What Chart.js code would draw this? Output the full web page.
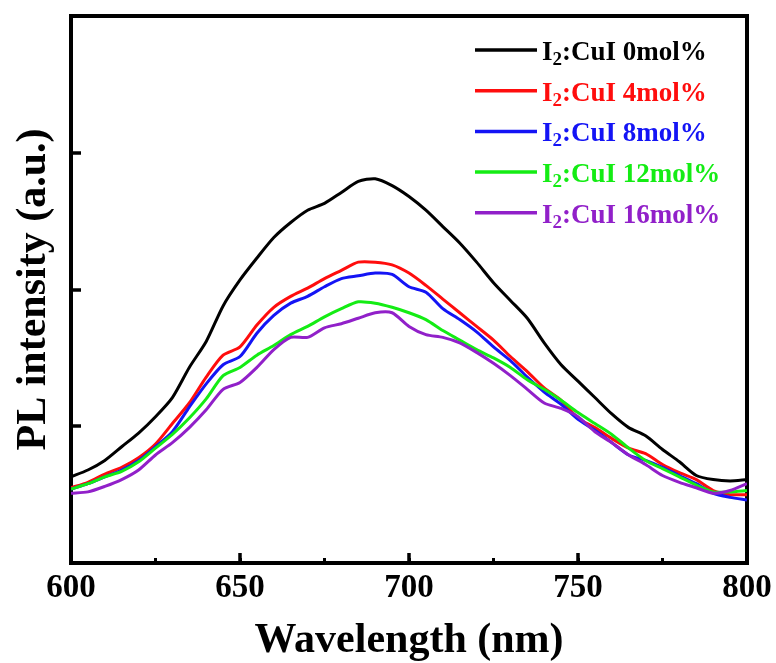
<!DOCTYPE html>
<html>
<head>
<meta charset="utf-8">
<script src="https://cdn.jsdelivr.net/npm/chart.js@4.4.1/dist/chart.umd.min.js"></script>
<style>
html, body { margin: 0; padding: 0; background: #fff; }
</style>
</head>
<body>
<canvas id="chart" width="776" height="663"></canvas>
<script>
const wavelength = [600, 605, 610, 615, 620, 625, 630, 635, 640, 645, 650, 655, 660, 665, 670, 675, 680, 685, 690, 695,
	700, 705, 710, 715, 720, 725, 730, 735, 740, 745, 750, 755, 760, 765, 770, 775, 780, 785, 790, 795, 800];

const pl0 = [0.63, 0.68, 0.75, 0.85, 0.95, 1.07, 1.21, 1.43, 1.62, 1.88, 2.07, 2.23, 2.38, 2.49, 2.58, 2.63, 2.71, 2.79, 2.81, 2.76,
	2.68, 2.58, 2.46, 2.34, 2.20, 2.05, 1.92, 1.79, 1.61, 1.45, 1.33, 1.21, 1.09, 0.99, 0.93, 0.83, 0.74, 0.64, 0.61, 0.60, 0.61];
const pl4 = [0.55, 0.59, 0.65, 0.70, 0.77, 0.87, 1.02, 1.17, 1.36, 1.52, 1.58, 1.74, 1.87, 1.95, 2.01, 2.08, 2.14, 2.20, 2.20, 2.18,
	2.12, 2.03, 1.93, 1.83, 1.73, 1.63, 1.51, 1.40, 1.28, 1.19, 1.06, 0.99, 0.91, 0.84, 0.80, 0.72, 0.66, 0.61, 0.53, 0.50, 0.50];
const pl8 = [0.54, 0.58, 0.63, 0.68, 0.75, 0.85, 0.96, 1.14, 1.31, 1.45, 1.51, 1.68, 1.81, 1.90, 1.95, 2.02, 2.08, 2.10, 2.12, 2.11,
	2.02, 1.98, 1.86, 1.78, 1.69, 1.58, 1.48, 1.36, 1.25, 1.16, 1.05, 0.97, 0.88, 0.79, 0.75, 0.70, 0.64, 0.58, 0.51, 0.48, 0.46];
const pl12 = [0.54, 0.58, 0.63, 0.67, 0.74, 0.84, 0.94, 1.06, 1.20, 1.37, 1.43, 1.52, 1.59, 1.67, 1.73, 1.80, 1.86, 1.91, 1.90, 1.87,
	1.83, 1.78, 1.70, 1.63, 1.56, 1.50, 1.43, 1.34, 1.27, 1.19, 1.10, 1.02, 0.94, 0.84, 0.75, 0.69, 0.63, 0.57, 0.52, 0.52, 0.53];
const pl16 = [0.51, 0.52, 0.56, 0.61, 0.68, 0.79, 0.88, 0.99, 1.12, 1.27, 1.32, 1.43, 1.56, 1.65, 1.65, 1.72, 1.75, 1.79, 1.83, 1.83,
	1.73, 1.67, 1.65, 1.61, 1.54, 1.46, 1.37, 1.27, 1.17, 1.13, 1.07, 0.96, 0.88, 0.79, 0.72, 0.64, 0.59, 0.55, 0.51, 0.53, 0.58];

const doping = ['0', '4', '8', '12', '16'];
const lineColors = ['#000000', '#ff0d0d', '#1414f5', '#14ec14', '#9120c9'];
const series = [pl0, pl4, pl8, pl12, pl16];

const serif = '"Liberation Serif", "Times New Roman", serif';

// legend sits inside the plot, top right, with a real subscript in I2
const insideLegend = {
	id: 'insideLegend',
	afterDatasetsDraw: chart => {
		const {ctx, chartArea} = chart;
		const x0 = chartArea.right - 272;
		ctx.save();
		chart.data.datasets.forEach((ds, i) => {
			const y = chartArea.top + 34 + i * 40.7;
			ctx.strokeStyle = ds.borderColor;
			ctx.lineWidth = 3.5;
			ctx.beginPath();
			ctx.moveTo(x0, y);
			ctx.lineTo(x0 + 62, y);
			ctx.stroke();

			const [head, tail] = ds.label.split('\u2082');
			const base = y + 10;
			let tx = x0 + 67;
			ctx.fillStyle = ds.borderColor;
			ctx.textBaseline = 'alphabetic';
			ctx.textAlign = 'left';
			ctx.font = `bold 27px ${serif}`;
			ctx.fillText(head, tx, base);
			tx += ctx.measureText(head).width;
			ctx.font = `bold 19px ${serif}`;
			ctx.fillText('2', tx, base + 5);
			tx += ctx.measureText('2').width;
			ctx.font = `bold 27px ${serif}`;
			ctx.fillText(tail, tx, base);
		});
		ctx.restore();
	}
};

const frameAxis = position => ({
	type: 'linear',
	position,
	min: position === 'top' ? 600 : 0,
	max: position === 'top' ? 800 : 4,
	ticks: { display: false },
	grid: { drawOnChartArea: false, drawTicks: false, lineWidth: 4 },
	border: { display: true, width: 4, color: '#000' },
	afterFit: scale => {
		if (position === 'top') scale.height = 0;
		else scale.width = 0;
	}
});

new Chart(document.getElementById('chart'), {
	type: 'line',
	data: {
		datasets: series.map((values, i) => ({
			label: `I\u2082:CuI ${doping[i]}mol%`,
			data: wavelength.map((w, j) => ({ x: w, y: values[j] })),
			borderColor: lineColors[i],
			backgroundColor: lineColors[i],
			borderWidth: 3,
			borderJoinStyle: 'round',
			pointRadius: 0,
			tension: 0.25,
			order: series.length - i
		}))
	},
	options: {
		responsive: false,
		animation: false,
		layout: { padding: { top: 16, right: 29, bottom: 0, left: 0 } },
		plugins: {
			legend: { display: false },
			tooltip: { enabled: false }
		},
		scales: {
			xMinor: {
				type: 'linear',
				position: 'bottom',
				weight: 0,
				min: 600,
				max: 800,
				ticks: { display: false, stepSize: 25 },
				grid: { drawOnChartArea: false, tickLength: -5, tickWidth: 3, tickColor: '#000' },
				border: { display: false },
				afterFit: scale => {
					scale.height = 0;
					scale.paddingLeft = scale.paddingRight = 0;
				}
			},
			x: {
				type: 'linear',
				position: 'bottom',
				weight: 1,
				min: 600,
				max: 800,
				ticks: {
					stepSize: 50,
					color: '#000',
					padding: 16,
					maxRotation: 0,
					autoSkip: false,
					font: { family: serif, size: 33, weight: 'bold' }
				},
				grid: { drawOnChartArea: false, tickLength: -10, tickWidth: 3.5, tickColor: '#000', lineWidth: 4 },
				border: { display: true, width: 4, color: '#000' },
				title: {
					display: true,
					text: 'Wavelength (nm)',
					color: '#000',
					font: { family: serif, size: 42, weight: 'bold', lineHeight: 1 },
					padding: { top: 0, bottom: 1 }
				},
				// fixed band under the plot; the end labels may hang into the margins
				afterFit: scale => {
					scale.height = 100;
					scale.paddingLeft = scale.paddingRight = 0;
				}
			},
			xTop: frameAxis('top'),
			y: {
				type: 'linear',
				position: 'left',
				min: 0,
				max: 4,
				ticks: { display: false, stepSize: 1 },
				grid: { drawOnChartArea: false, tickLength: -10, tickWidth: 3.5, tickColor: '#000', lineWidth: 4 },
				border: { display: true, width: 4, color: '#000' },
				title: {
					display: true,
					text: 'PL intensity (a.u.)',
					color: '#000',
					font: { family: serif, size: 42, weight: 'bold', lineHeight: 1 },
					padding: { top: 13, bottom: 0 }
				},
				afterFit: scale => { scale.width = 71; }
			},
			yRight: frameAxis('right')
		}
	},
	plugins: [insideLegend]
});
</script>
</body>
</html>
